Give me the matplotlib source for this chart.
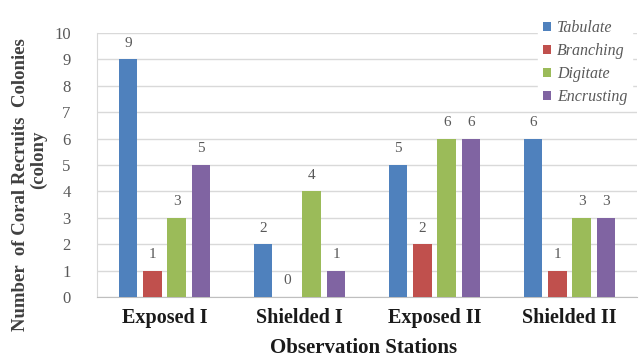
import matplotlib
matplotlib.use("Agg")
import matplotlib.pyplot as plt
import numpy as np

stations = ["Exposed I", "Shielded I", "Exposed II", "Shielded II"]
growth_forms = ["Tabulate", "Branching", "Digitate", "Encrusting"]
tabulate = [9, 2, 5, 6]
branching = [1, 0, 2, 1]
digitate = [3, 4, 6, 3]
encrusting = [5, 1, 6, 3]
y_ticks = list(range(0, 11))

series = [tabulate, branching, digitate, encrusting]
colors = ["#4F81BD", "#C0504D", "#9BBB59", "#8064A2"]

serif = ["Liberation Serif", "DejaVu Serif"]
plt.rcParams["font.family"] = serif

fig = plt.figure(figsize=(6.4, 3.62), dpi=100)
ax = fig.add_axes([97 / 640, 1 - 297 / 362, (637 - 97) / 640, (297 - 33) / 362])

x = np.arange(len(stations))
width = 0.137
step = 0.181
offsets = (np.arange(len(series)) - 1.5) * step

for vals, off, col, name in zip(series, offsets, colors, growth_forms):
    bars = ax.bar(x + off, vals, width=width, color=col, label=name, zorder=3)
    for b, v in zip(bars, vals):
        ax.annotate(str(v), (b.get_x() + b.get_width() / 2, v),
                    xytext=(0, 9), textcoords="offset points",
                    ha="center", va="baseline", fontsize=11, color="#595959")

ax.set_xlim(-0.5, len(stations) - 0.5)
ax.set_ylim(0, 10)
ax.set_yticks(y_ticks)
ax.yaxis.grid(True, color="#d9d9d9", linewidth=1, zorder=0)
ax.set_axisbelow(True)
ax.tick_params(axis="y", length=0, pad=19, labelsize=12, labelcolor="#595959")
ax.tick_params(axis="x", length=0, pad=8)
ax.set_xticks(x)
ax.set_xticklabels(stations, fontsize=14.5, fontweight="bold", color="#1a1a1a")
for s in ["top", "right"]:
    ax.spines[s].set_visible(False)
ax.spines["left"].set_color("#d9d9d9")
ax.spines["bottom"].set_color("#bfbfbf")

fig.text(364 / 640, 1 - 348 / 362, "Observation Stations", ha="center", va="center",
         fontsize=15, fontweight="bold", color="#1a1a1a")
fig.text(21 / 640, 1 - 185 / 362, "Number  of Coral Recruits  Colonies", rotation=90,
         ha="center", va="center", fontsize=13.5, fontweight="bold", color="#404040")
fig.text(38 / 640, 1 - 160 / 362, "(colony", rotation=90,
         ha="center", va="center", fontsize=13.5, fontweight="bold", color="#404040")

leg = fig.legend(loc="upper right", bbox_to_anchor=(1.0, 1 - 7 / 362), frameon=True,
                 fancybox=False, edgecolor="white", facecolor="white", framealpha=1,
                 handlelength=0.5, handleheight=0.5, handletextpad=0.35,
                 labelspacing=0.45, borderpad=0.3,
                 prop={"family": serif, "style": "italic", "size": 11.5})
for t in leg.get_texts():
    t.set_color("#595959")

fig.savefig("out.png", dpi=100)
